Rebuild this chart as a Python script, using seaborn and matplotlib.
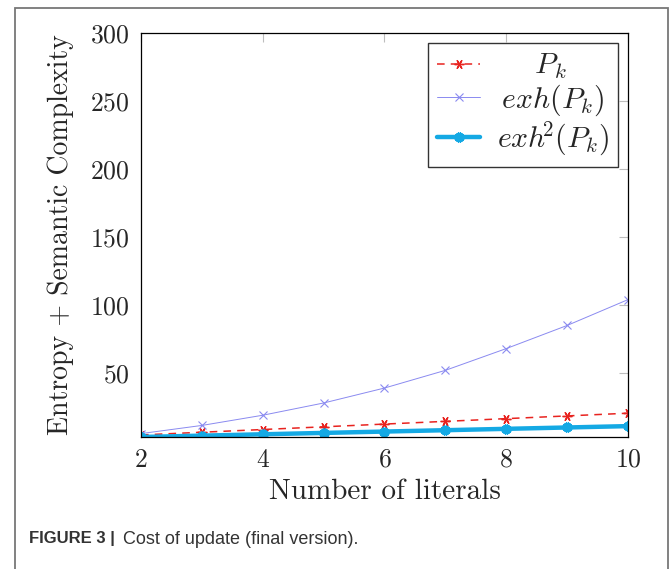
import numpy as np
import pandas as pd
import matplotlib
matplotlib.use('Agg')
import matplotlib.pyplot as plt
import seaborn as sns
from matplotlib.patches import Rectangle

# values
literals = [2, 3, 4, 5, 6, 7, 8, 9, 10]
cost_pk = [4.5, 6.5, 8.5, 10.5, 12.5, 14.5, 16.5, 18.5, 20.5]
cost_exh = [5.5, 11.5, 19, 28, 39, 52, 68, 85, 104]
cost_exh2 = [3, 4, 5, 6, 7, 8, 9, 10, 11]

x_ticks = [2, 4, 6, 8, 10]
y_ticks = [50, 100, 150, 200, 250, 300]

sns.set_style('white')
plt.rcParams['font.family'] = ['cmr10', 'DejaVu Serif']
plt.rcParams['mathtext.fontset'] = 'cm'
plt.rcParams['axes.formatter.use_mathtext'] = True

fig = plt.figure(figsize=(6.69, 5.69), dpi=100)
ax = fig.add_axes([141 / 669, 1 - 437 / 569, 487 / 669, 404 / 569])

sns.lineplot(x=literals, y=cost_pk, ax=ax, color='#e8231f', linestyle=(0, (5, 4)),
             linewidth=1.1, marker=(6, 2, 90), markersize=7, markeredgewidth=1.0,
             markeredgecolor='#e8231f', label=r'$\quad\;\,P_k$')
sns.lineplot(x=literals, y=cost_exh, ax=ax, color='#8a8af0', linewidth=0.7,
             marker='x', markersize=6, markeredgewidth=0.8,
             markeredgecolor='#8a8af0', label=r'$\,exh(P_k)$')
sns.lineplot(x=literals, y=cost_exh2, ax=ax, color='#14a9e4', linewidth=3.2,
             marker=(6, 2, 90), markersize=7, markeredgewidth=3,
             markeredgecolor='#14a9e4', label=r'$exh^{\!\!2}(P_k)$')

ax.set_xlim(2, 10)
ax.set_ylim(3, 300)
ax.set_xticks(x_ticks)
ax.set_yticks(y_ticks)
ax.tick_params(direction='in', length=6.5, width=0.8, color='#bdbdbd',
               top=True, right=True, labelsize=18.5, pad=8)
for s in ax.spines.values():
    s.set_color('black')
    s.set_linewidth(0.9)

ax.set_xlabel('Number of literals', fontsize=21, labelpad=5)
ax.set_ylabel('Entropy + Semantic Complexity', fontsize=20, labelpad=12)

leg = ax.legend(loc='upper right', bbox_to_anchor=(0.9795, 0.975), borderaxespad=0,
                fontsize=21.5, handlelength=1.45, labelspacing=0.05, fancybox=False,
                framealpha=1, edgecolor='#333333', borderpad=0.3, handletextpad=0.55)
leg.get_frame().set_linewidth(1.0)

# outer frame of the figure panel
fig.patches.append(Rectangle((15 / 669, -0.05), 653 / 669, 1.05 - 8 / 569,
                             transform=fig.transFigure, fill=False,
                             edgecolor='#777777', linewidth=1.3))

# caption
t1 = fig.text(29 / 669, 1 - 539 / 569, 'FIGURE 3 |', fontsize=12, fontweight='bold',
              family='Liberation Sans', color='#333333', va='center')
fig.canvas.draw()
bb = t1.get_window_extent().transformed(fig.transFigure.inverted())
fig.text(bb.x1 + 8 / 669, 1 - 539 / 569, 'Cost of update (final version).', fontsize=13,
         family='Liberation Sans', color='#333333', va='center')

plt.savefig('out.png', dpi=100)
